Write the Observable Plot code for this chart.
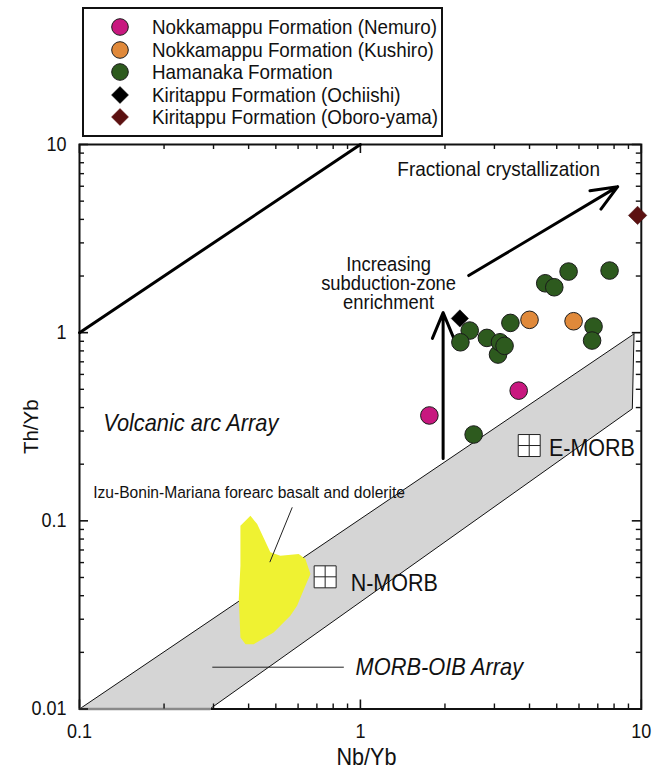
<!DOCTYPE html>
<html><head><meta charset="utf-8">
<script src="https://cdn.jsdelivr.net/npm/d3@7"></script>
<script src="https://cdn.jsdelivr.net/npm/@observablehq/plot@0.6"></script>
<style>
body{margin:0;background:#fff;font-family:"Liberation Sans",Arial,Helvetica,sans-serif;color:#111;}
#wrap{width:668px;height:772px;position:relative;}
#chart{position:absolute;left:0;top:0;}
#legend{position:absolute;left:82px;top:7px;width:357px;height:126px;border:2px solid #111;background:#fff;z-index:2;}
.row{position:absolute;left:0;height:22px;width:355px;}
.row svg{position:absolute;left:26px;top:1px;}
.row span{position:absolute;left:68px;top:0;line-height:22px;font-size:18.8px;white-space:nowrap;display:inline-block;transform:scaleY(1.1);transform-origin:left center;}
</style></head>
<body>
<div id="wrap">
  <div id="chart"></div>
  <div id="legend"></div>
</div>
<script>
// ---- data ----
const nemuroX = [1.76, 3.66];
const nemuroY = [0.363, 0.492];
const kushiroX = [4.0, 5.74];
const kushiroY = [1.17, 1.15];
const hamanakaX = [2.45, 2.27, 2.82, 3.09, 3.14, 3.26, 3.42, 2.53, 4.55, 4.90, 5.51, 7.71, 6.76, 6.68];
const hamanakaY = [1.026, 0.889, 0.938, 0.765, 0.889, 0.851, 1.127, 0.2875, 1.83, 1.743, 2.112, 2.138, 1.078, 0.908];
const ochiishiX = [2.26];
const ochiishiY = [1.19];
const oboroX = [9.7];
const oboroY = [4.2];

const morbBandX = [0.1, 9.42, 9.29, 0.291];
const morbBandY = [0.01, 0.985, 0.394, 0.01];
const ibmX = [0.374, 0.406, 0.429, 0.478, 0.519, 0.603, 0.637, 0.664, 0.637, 0.595, 0.563, 0.491, 0.417, 0.39, 0.374, 0.369, 0.374];
const ibmY = [0.0941, 0.1063, 0.0961, 0.068, 0.0652, 0.0666, 0.0626, 0.0521, 0.0452, 0.0354, 0.0313, 0.0255, 0.0221, 0.0221, 0.024, 0.0384, 0.0577];

const refNames = ["N-MORB", "E-MORB"];
const refX = [0.749, 3.99];
const refY = [0.0504, 0.2513];
const refLabelX = [0.923, 4.69];
const refLabelY = [0.0464, 0.243];

const arcLineX = [0.1, 1];
const arcLineY = [1, 10];

const arrowX1 = [2.43, 1.97];
const arrowY1 = [2.011, 0.2143];
const arrowX2 = [8.24, 1.97];
const arrowY2 = [5.97, 1.279];

const leaderX1 = [0.572, 0.297];
const leaderY1 = [0.118, 0.01668];
const leaderX2 = [0.476, 0.873];
const leaderY2 = [0.0603, 0.01668];

const xMajor = [0.1, 1, 10];
const xMinor = [0.2, 0.3, 0.4, 0.5, 0.6, 0.7, 0.8, 0.9, 2, 3, 4, 5, 6, 7, 8, 9];
const yMajor = [0.01, 0.1, 1, 10];
const yMinor = [0.02, 0.03, 0.04, 0.05, 0.06, 0.07, 0.08, 0.09, 0.2, 0.3, 0.4, 0.5, 0.6, 0.7, 0.8, 0.9, 2, 3, 4, 5, 6, 7, 8, 9];

const legendLabels = ["Nokkamappu Formation (Nemuro)", "Nokkamappu Formation (Kushiro)", "Hamanaka Formation", "Kiritappu Formation (Ochiishi)", "Kiritappu Formation (Oboro-yama)"];
const legendColors = ["#c8187f", "#e0893a", "#2d5a1e", "#000000", "#5c1111"];
const legendShapes = ["circle", "circle", "circle", "diamond", "diamond"];

// ---- legend ----
const legend = document.getElementById("legend");
const rowCenters = [18, 41, 63, 86, 108];
legendLabels.forEach((lab, i) => {
  const row = document.createElement("div");
  row.className = "row";
  row.style.top = (rowCenters[i] - 11) + "px";
  const shape = legendShapes[i] === "circle"
    ? `<circle cx="10" cy="10" r="8.3" fill="${legendColors[i]}" stroke="#1a1a1a" stroke-width="1"/>`
    : `<polygon points="10,1.5 18.5,10 10,18.5 1.5,10" fill="${legendColors[i]}" stroke="${legendColors[i]}" stroke-width="0.5"/>`;
  row.innerHTML = `<svg width="20" height="20">${shape}</svg><span>${lab}</span>`;
  legend.appendChild(row);
});

// ---- chart ----
const W = 668, H = 772, mT = 144, mB = 63.5, mL = 79, mR = 27.2;
const fh = H - mT - mB, fw = W - mL - mR;
const fmt = d3.format("~g");
const tickFont = 18;

const chart = Plot.plot({
  width: W, height: H,
  marginTop: mT, marginBottom: mB, marginLeft: mL, marginRight: mR,
  style: {fontFamily: "Liberation Sans, Arial, Helvetica, sans-serif", fontSize: tickFont + "px", color: "#111", background: "white"},
  x: {type: "log", domain: [0.1, 10], ticks: xMajor, tickFormat: fmt, tickSize: 0, tickPadding: 15, label: null},
  y: {type: "log", domain: [0.01, 10], ticks: yMajor, tickFormat: fmt, tickSize: 0, tickPadding: 13, label: null},
  marks: [
    // MORB-OIB band
    Plot.line(morbBandX, {x: morbBandX, y: morbBandY, fill: "#d5d5d5", stroke: "none", curve: "linear-closed"}),
    Plot.line([0, 1], {x: [morbBandX[0], morbBandX[1]], y: [morbBandY[0], morbBandY[1]], stroke: "#111", strokeWidth: 1}),
    Plot.line([0, 1, 2], {x: [morbBandX[1], morbBandX[2], morbBandX[3]], y: [morbBandY[1], morbBandY[2], morbBandY[3]], stroke: "#111", strokeWidth: 1}),
    // IBM forearc field
    Plot.line(ibmX, {x: ibmX, y: ibmY, fill: "#eff232", stroke: "none", curve: "linear-closed"}),
    // frame and ticks
    Plot.frame({stroke: "#111", strokeWidth: 2}),
    Plot.line([0, 1], {x: [morbBandX[0], morbBandX[3]], y: [morbBandY[0], morbBandY[3]], stroke: "#8a8a8a", strokeWidth: 2.5}),
    Plot.ruleX(xMajor, {insetTop: fh - 9, stroke: "#111", strokeWidth: 1.6}),
    Plot.ruleX(xMajor, {insetBottom: fh - 9, stroke: "#111", strokeWidth: 1.6}),
    Plot.ruleX(xMinor, {insetTop: fh - 5, stroke: "#111", strokeWidth: 1.4}),
    Plot.ruleX(xMinor, {insetBottom: fh - 5, stroke: "#111", strokeWidth: 1.4}),
    Plot.ruleY(yMajor, {insetRight: fw - 9, stroke: "#111", strokeWidth: 1.6}),
    Plot.ruleY(yMajor, {insetLeft: fw - 9, stroke: "#111", strokeWidth: 1.6}),
    Plot.ruleY(yMinor, {insetRight: fw - 5, stroke: "#111", strokeWidth: 1.4}),
    Plot.ruleY(yMinor, {insetLeft: fw - 5, stroke: "#111", strokeWidth: 1.4}),
    // volcanic arc upper boundary
    Plot.line(arcLineX, {x: arcLineX, y: arcLineY, stroke: "#000", strokeWidth: 3}),
    // arrows
    Plot.arrow(arrowX1, {x1: arrowX1, y1: arrowY1, x2: arrowX2, y2: arrowY2, stroke: "#000", strokeWidth: 3, headLength: 14, headAngle: 45}),
    // leader lines
    Plot.link(leaderX1, {x1: leaderX1, y1: leaderY1, x2: leaderX2, y2: leaderY2, stroke: "#222", strokeWidth: 1}),
    // reference compositions
    Plot.dot(refX, {x: refX, y: refY, symbol: "square", r: 12.4, fill: "white", stroke: "#222", strokeWidth: 1}),
    Plot.dot(refX, {x: refX, y: refY, symbol: "plus", r: 7.1, fill: "none", stroke: "#222", strokeWidth: 1}),
    // samples
    Plot.dot(ochiishiX, {x: ochiishiX, y: ochiishiY, symbol: "diamond2", r: 7.8, fill: legendColors[3], stroke: legendColors[3], strokeWidth: 0.5}),
    Plot.dot(oboroX, {x: oboroX, y: oboroY, symbol: "diamond2", r: 8.3, fill: legendColors[4], stroke: "#3a0a0a", strokeWidth: 0.5}),
    Plot.dot(hamanakaX, {x: hamanakaX, y: hamanakaY, r: 8.8, fill: legendColors[2], stroke: "#1a1a1a", strokeWidth: 1}),
    Plot.dot(kushiroX, {x: kushiroX, y: kushiroY, r: 8.8, fill: legendColors[1], stroke: "#1a1a1a", strokeWidth: 1}),
    Plot.dot(nemuroX, {x: nemuroX, y: nemuroY, r: 8.8, fill: legendColors[0], stroke: "#1a1a1a", strokeWidth: 1}),
    // labels
    Plot.text(["Fractional crystallization"], {x: [3.105], y: [7.42], fontSize: 19, textAnchor: "middle", fill: "#111"}),
    Plot.text(["Increasing\nsubduction-zone\nenrichment"], {x: [1.26], y: [1.816], fontSize: 18.4, textAnchor: "middle", lineHeight: 0.95, fill: "#111"}),
    Plot.text(["Volcanic arc Array"], {x: [0.1214], y: [0.330], fontSize: 21.8, fontStyle: "italic", textAnchor: "start", fill: "#111"}),
    Plot.text(["Izu-Bonin-Mariana forearc basalt and dolerite"], {x: [0.1119], y: [0.142], fontSize: 15.6, textAnchor: "start", fill: "#111"}),
    Plot.text(refNames, {x: refLabelX, y: refLabelY, fontSize: 21.5, textAnchor: "start", fill: "#111"}),
    Plot.text(["MORB-OIB Array"], {x: [0.961], y: [0.01668], fontSize: 21.8, fontStyle: "italic", textAnchor: "start", fill: "#111"}),
    Plot.text(["Nb/Yb"], {frameAnchor: "bottom", lineAnchor: "middle", textAnchor: "middle", dy: 48, dx: 6, fontSize: 21.6, fill: "#111"}),
    Plot.text(["Th/Yb"], {frameAnchor: "left", lineAnchor: "middle", textAnchor: "middle", dx: -48, rotate: -90, fontSize: 20.5, fill: "#111"})
  ]
});
document.getElementById("chart").appendChild(chart);

// axis tick labels: force size
chart.querySelectorAll('[aria-label*="axis"]').forEach(g => {
  g.setAttribute("font-size", tickFont);
  g.querySelectorAll("text").forEach(t => { t.setAttribute("font-size", tickFont); t.style.fontSize = tickFont + "px"; });
});

// slightly taller glyphs, as in the reference
chart.querySelectorAll("text").forEach(t => {
  const tr = t.getAttribute("transform");
  if (tr) {
    if (tr.startsWith("translate") && !tr.includes("rotate")) t.setAttribute("transform", tr + " scale(1,1.1)");
  } else {
    const y = parseFloat(t.getAttribute("y") || "0");
    t.setAttribute("y", y / 1.1);
    t.setAttribute("transform", "scale(1,1.1)");
  }
});
</script>
</body></html>
